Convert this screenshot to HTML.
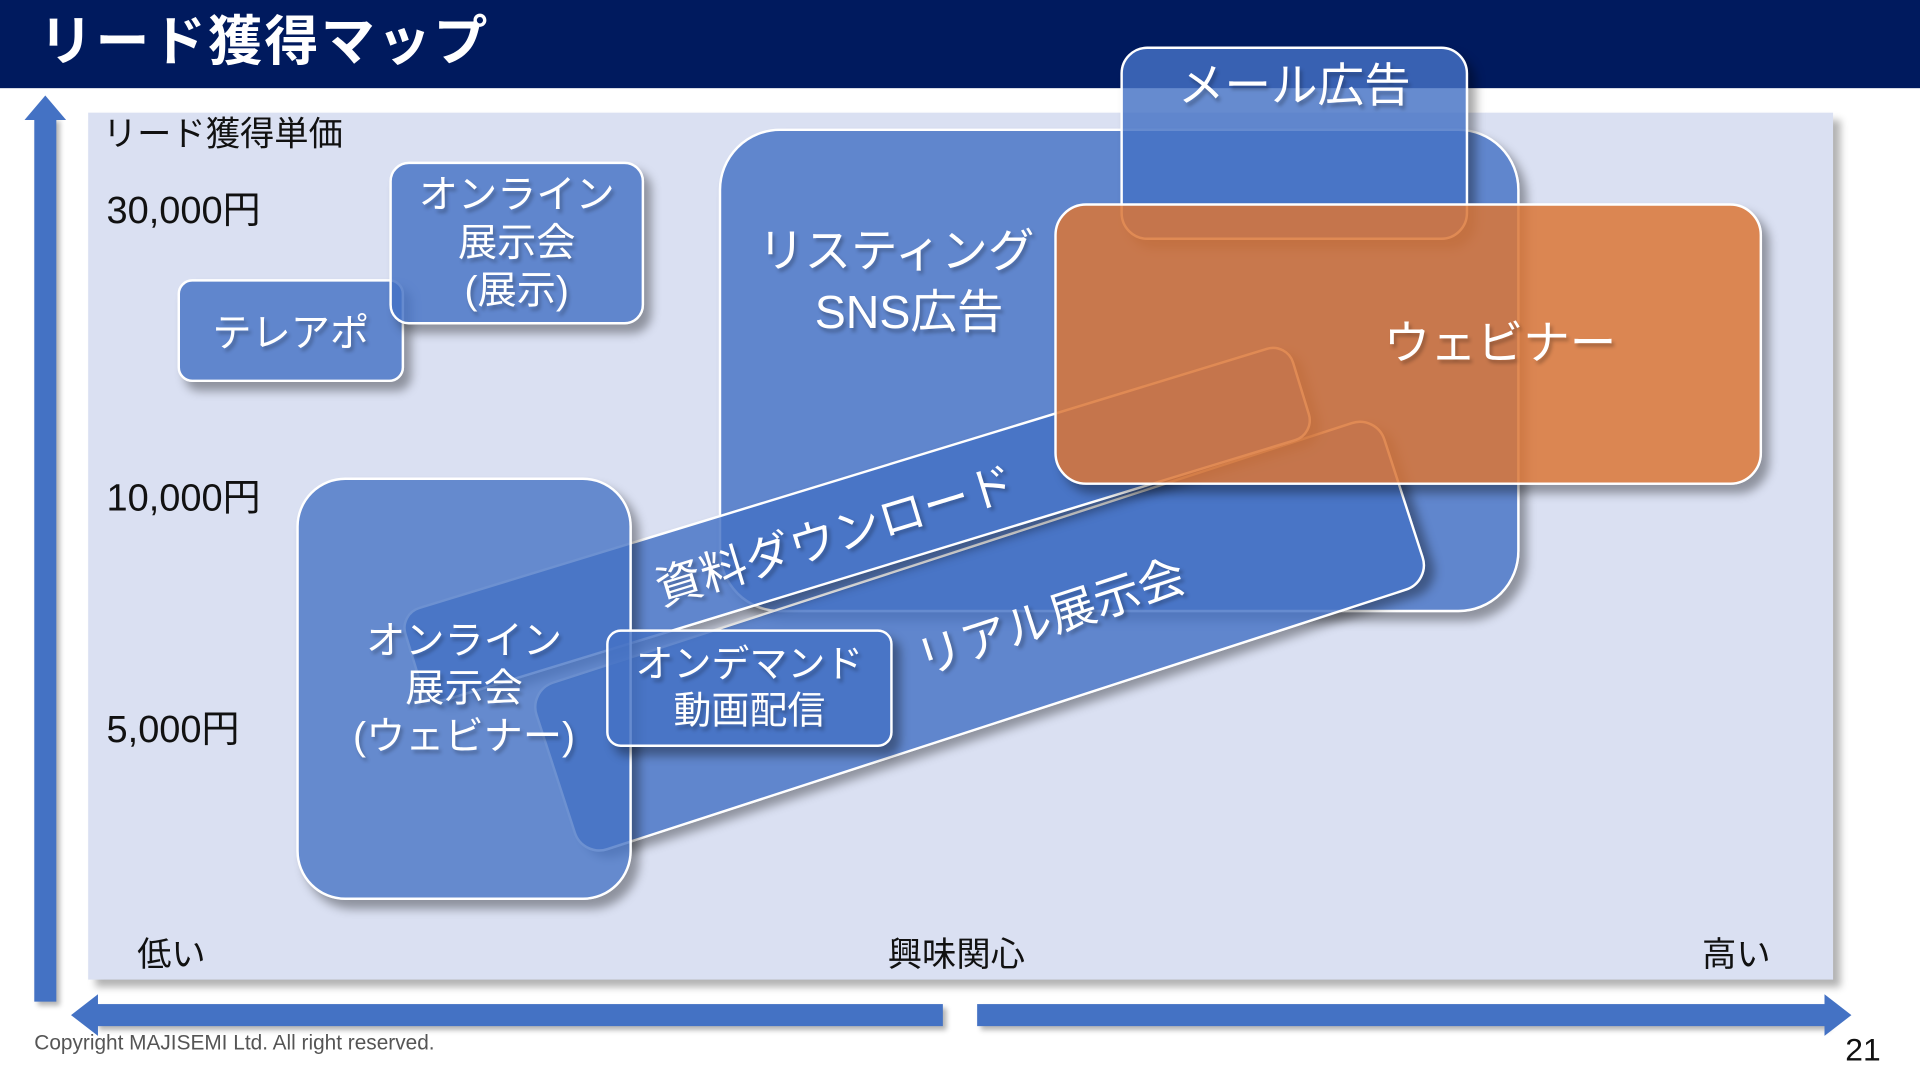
<!DOCTYPE html>
<html><head><meta charset="utf-8"><style>
html,body{margin:0;padding:0;width:1920px;height:1080px;overflow:hidden;background:#fff}
#s{position:absolute;left:0;top:0;width:1568px;height:882px;transform:scale(1.22449);transform-origin:0 0;font-family:"Liberation Sans","Noto Sans CJK JP",sans-serif}
.a{position:absolute}
.b{position:absolute;box-sizing:border-box;border:2px solid #fff;background:rgba(68,114,196,0.82);color:#fff;display:flex;align-items:center;justify-content:center;text-align:center;box-shadow:6px 7px 8px rgba(0,0,0,0.35);text-shadow:2px 3px 3px rgba(0,0,0,0.25)}
.t{color:#111;font-size:28px;position:absolute;line-height:1}
</style></head><body><div id="s">
<div class="a" style="left:0;top:0;width:1568px;height:72px;background:#001a5e"></div>
<div class="a" style="left:32px;top:8px;color:#fff;font-size:44px;font-weight:bold;line-height:54px;letter-spacing:2px">リード獲得マップ</div>
<div class="a" style="left:72px;top:92px;width:1425px;height:708px;background:#dae0f2;box-shadow:6px 6px 6px rgba(0,0,0,0.3)"></div>
<!-- axes -->
<div class="a" style="left:28px;top:96px;width:18px;height:722px;background:#4472c4;box-shadow:3px 3px 4px rgba(0,0,0,0.3)"></div>
<div class="a" style="left:20px;top:78px;width:0;height:0;border-left:17px solid transparent;border-right:17px solid transparent;border-bottom:20px solid #4472c4"></div>
<div class="a" style="left:78px;top:820px;width:692px;height:18px;background:#4472c4;box-shadow:3px 3px 4px rgba(0,0,0,0.3)"></div>
<div class="a" style="left:58px;top:812px;width:0;height:0;border-top:17px solid transparent;border-bottom:17px solid transparent;border-right:22px solid #4472c4"></div>
<div class="a" style="left:798px;top:820px;width:694px;height:18px;background:#4472c4;box-shadow:3px 3px 4px rgba(0,0,0,0.3)"></div>
<div class="a" style="left:1490px;top:812px;width:0;height:0;border-top:17px solid transparent;border-bottom:17px solid transparent;border-left:22px solid #4472c4"></div>
<!-- labels -->
<div class="t" style="left:84px;top:96px">リード獲得単価</div>
<div class="t" style="left:87px;top:156px;font-size:31px">30,000円</div>
<div class="t" style="left:87px;top:391px;font-size:31px">10,000円</div>
<div class="t" style="left:87px;top:580px;font-size:31px">5,000円</div>
<div class="t" style="left:112px;top:766px">低い</div>
<div class="t" style="left:725px;top:766px">興味関心</div>
<div class="t" style="left:1390px;top:766px">高い</div>
<div class="a" style="left:28px;top:842px;font-size:17px;color:#555">Copyright MAJISEMI Ltd. All right reserved.</div>
<div class="a" style="left:1507px;top:842px;font-size:26px;color:#111">21</div>
<!-- shapes -->
<div class="b" style="left:587px;top:105px;width:654px;height:395px;border-radius:50px;align-items:flex-start;justify-content:flex-start;padding:74px 0 0 30px;font-size:38px;line-height:50px">リスティング<br>&nbsp;&nbsp;SNS広告</div>
<div class="b" style="left:915px;top:38px;width:284px;height:158px;border-radius:22px;align-items:flex-start;padding-top:6px;font-size:38px;line-height:50px">メール広告</div>
<div class="b" style="left:435px;top:447px;width:730px;height:145px;border-radius:22px;transform:rotate(-18deg);font-size:38px;padding:0 0 0 120px">リアル展示会</div>
<div class="b" style="left:320px;top:388px;width:760px;height:80px;border-radius:18px;transform:rotate(-17deg);font-size:38px;padding-right:40px">資料ダウンロード</div>
<div class="b" style="left:861px;top:166px;width:578px;height:230px;border-radius:26px;background:rgba(218,118,54,0.85);font-size:38px;padding-left:150px;padding-bottom:10px">ウェビナー</div>
<div class="b" style="left:242px;top:390px;width:274px;height:345px;border-radius:40px;font-size:32px;line-height:39px;background:rgba(68,114,196,0.78)">オンライン<br>展示会<br>(ウェビナー)</div>
<div class="b" style="left:495px;top:514px;width:234px;height:96px;border-radius:12px;font-size:31px;line-height:38px">オンデマンド<br>動画配信</div>
<div class="b" style="left:145px;top:228px;width:185px;height:84px;border-radius:12px;font-size:32px">テレアポ</div>
<div class="b" style="left:318px;top:132px;width:208px;height:133px;border-radius:16px;font-size:32px;line-height:39px">オンライン<br>展示会<br>(展示)</div>
</div></body></html>
